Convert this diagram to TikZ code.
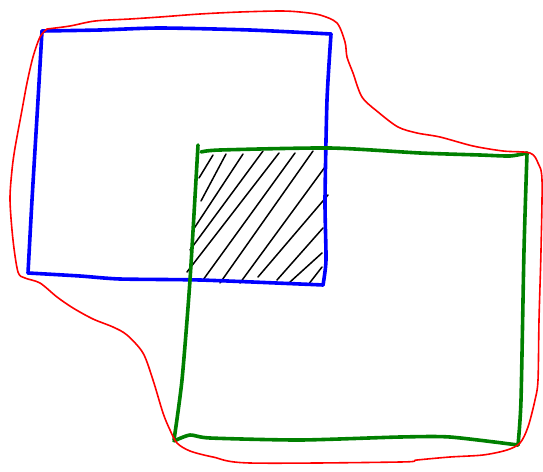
\documentclass[tikz,border=0pt]{standalone}
\usepackage{tikz}
\usetikzlibrary{calc}

\tikzset{
	bluepen/.style={draw=blue, line width=3.6pt, line cap=round, line join=round},
	greenpen/.style={draw=green!50!black, line width=3.6pt, line cap=round, line join=round},
	redpen/.style={draw=red, line width=1.6pt, line cap=round, line join=round},
	hatchpen/.style={draw=black, line width=1.5pt, line cap=round}
}

\begin{document}
\begin{tikzpicture}[x=1pt, y=-1pt]
	\useasboundingbox (0,0) rectangle (543,471);
	
	% Hatched overlap
	\foreach \xa/\ya/\xb/\yb in {213/155/199/178, 226/154/201/201, 243/154/193/230,
		263/151/190/250, 279/153/187/272, 295/153/203/280, 313/151/220/283,
		325/167/240/283, 328/195/258/277, 323/228/277/280, 322/253/290/282,
		322/267/308/285} {
		\draw[hatchpen] (\xa,\ya) -- (\xb,\yb);
	}
	
	% Blue square
	\draw[bluepen] plot[smooth, tension=0.4] coordinates {(42,31) (100,30) (160,28) (250,30) (331,34)};
	\draw[bluepen] plot[smooth, tension=0.4] coordinates {(331,34) (327,100) (325,200) (326,260) (323,285)};
	\draw[bluepen] plot[smooth, tension=0.4] coordinates {(323,285) (300,284) (200,280) (120,279) (80,276) (28,273)};
	\draw[bluepen] plot[smooth, tension=0.4] coordinates {(28,273) (32,200) (38,100) (42,31)};
	
	% Green square
	\draw[greenpen] plot[smooth, tension=0.4] coordinates {(198,145) (190,280) (182,380) (174,440)};
	\draw[greenpen] plot[smooth, tension=0.4] coordinates {(201,152) (220,150) (330,148) (420,153) (480,155) (510,156) (527,153)};
	\draw[greenpen] plot[smooth, tension=0.4] coordinates {(527,153) (524,250) (521,400) (518,445)};
	\draw[greenpen] plot[smooth, tension=0.4] coordinates {(174,441) (190,435) (210,438) (300,440) (400,437) (450,437) (518,445)};
	
	% Red outline round both
	\draw[redpen] plot[smooth, tension=0.5] coordinates {
		(47,29) (70,26) (95,21) (130,19) (160,17) (200,14) (240,12) (280,11)
		(300,12) (320,15) (337,23) (345,42) (347,57) (353,73) (362,97) (378,112)
		(398,127) (417,133) (440,137) (473,146) (503,151) (530,153) (538,163)
		(542,180) (541,250) (539,320) (538,380) (535,400) (528,427) (520,443)
		(507,450) (483,455) (450,457) (417,460) (400,462) (250,463) (213,457)
		(190,451) (177,443) (170,430) (163,413) (153,380) (143,353) (127,335)
		(113,327) (93,319) (73,308) (57,297) (40,283) (25,278) (18,272)
		(13,240) (10,200) (12,170) (15,148) (22,110) (27,83) (33,57) (40,37) (47,29)};
\end{tikzpicture}
\end{document}
